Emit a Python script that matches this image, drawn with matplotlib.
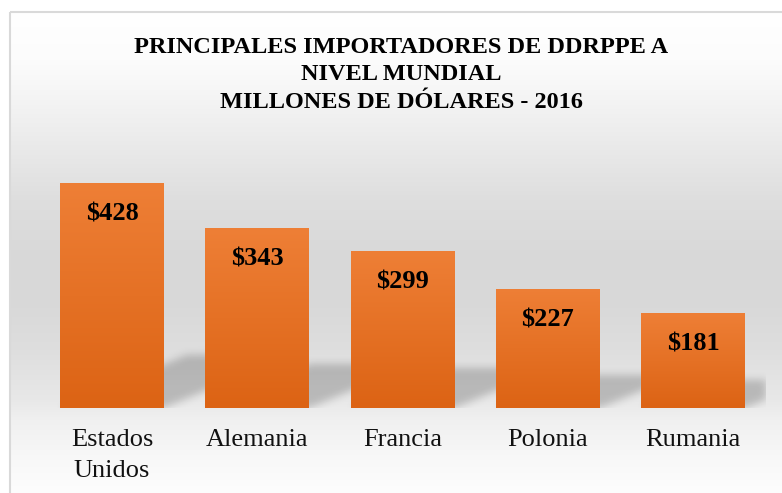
import numpy as np
import matplotlib
matplotlib.use('Agg')
import matplotlib.pyplot as plt
from matplotlib.patches import Rectangle
from matplotlib.colors import LinearSegmentedColormap

# ---- data ----
categories = ["Estados\nUnidos", "Alemania", "Francia", "Polonia", "Rumania"]
values = [428, 343, 299, 227, 181]
value_labels = ["$428", "$343", "$299", "$227", "$181"]
title_lines = ["PRINCIPALES IMPORTADORES DE DDRPPE A",
               "NIVEL MUNDIAL",
               "MILLONES DE DÓLARES - 2016"]

SERIF = ['Liberation Serif', 'DejaVu Serif']
W, H = 782, 493
fig = plt.figure(figsize=(W / 100, H / 100), dpi=100)
fig.patch.set_facecolor('white')

# ---- background gradient + frame ----
bg = fig.add_axes([0, 0, 1, 1], zorder=0)
bg.set_xlim(0, W)
bg.set_ylim(H, 0)
bg.axis('off')
ys = np.arange(H) + 0.5
stops_y = [11, 60, 100, 150, 200, 260, 300, 350, 400, 420, 460, 493]
stops_v = [255, 252, 244, 233, 222, 216, 216, 222, 232, 240, 248, 253]
g = np.interp(ys, stops_y, stops_v) / 255.0
img = np.ones((H, W, 3))
img[:, :, :] = g[:, None, None]
img[:11, :, :] = 1.0
img[:, :9, :] = 1.0
bg.imshow(img, extent=(0, W, H, 0), aspect='auto', interpolation='bilinear')
bg.add_patch(Rectangle((9.5, 11.5), W, H, fill=False, edgecolor='#d9d9d9', lw=1.5))
bg.set_xlim(0, W)
bg.set_ylim(H, 0)

# ---- main axes ----
ax_l, ax_r, ax_b, ax_t = 39.4, 765.6, 408.0, 145.7
ax = fig.add_axes([ax_l / W, (H - ax_b) / H, (ax_r - ax_l) / W, (ax_b - ax_t) / H], zorder=1)
ax.patch.set_alpha(0)
for s in ax.spines.values():
    s.set_visible(False)
ax.set_yticks([])
x = np.arange(len(values))
bw = 0.716

# shadow (perspective, blurred)
Wp, Hp = int(round(ax_r - ax_l)), int(round(ax_b - ax_t))
X, Y = np.meshgrid(np.arange(Wp) + 0.5, np.arange(Hp) + 0.5)
mask = np.zeros((Hp, Wp))
for i, v in enumerate(values):
    c = (i + 0.5) * Wp / len(values)
    hw = bw / 2 * Wp / len(values)
    h = v * Hp / 500.0
    s = 0.194 * h + 9.6
    k = 2.4
    inside = (Y <= s) & (X >= c - hw + k * Y) & (X <= c + hw + k * Y)
    mask = np.maximum(mask, inside.astype(float))
sig = 4.0
kx = np.arange(-15, 16)
kern = np.exp(-kx ** 2 / (2 * sig ** 2))
kern /= kern.sum()
pad = 15
m = np.pad(mask, pad, mode='constant')
m = np.apply_along_axis(lambda r: np.convolve(r, kern, mode='same'), 1, m)
m = np.apply_along_axis(lambda r: np.convolve(r, kern, mode='same'), 0, m)
m = m[pad:-pad, pad:-pad]
shadow = np.zeros((Hp, Wp, 4))
shadow[:, :, 3] = 0.2 * m
ax.imshow(shadow, extent=(-0.5, len(values) - 0.5, 0, 500), origin='lower',
          aspect='auto', interpolation='bilinear', zorder=2)

# bars with vertical gradient
cmap = LinearSegmentedColormap.from_list('org', ['#dc6314', '#ee7f36'])
bars = ax.bar(x, values, width=bw, color='#e6722a', zorder=3, linewidth=0)
grad = np.linspace(0, 1, 256)[:, None]
for b, v in zip(bars, values):
    x0 = b.get_x()
    im = ax.imshow(grad, extent=(x0, x0 + b.get_width(), 0, v), origin='lower',
                   cmap=cmap, aspect='auto', zorder=3.5, interpolation='bilinear')
    im.set_clip_path(b)

for i, (v, lbl) in enumerate(zip(values, value_labels)):
    ax.annotate(lbl, (i, v), xytext=(0, -37.5), textcoords='offset pixels',
                ha='center', va='baseline', fontsize=19, fontweight='bold',
                family=SERIF, color='black', zorder=5)

ax.set_xlim(-0.5, len(values) - 0.5)
ax.set_ylim(0, 500)
ax.set_xticks(x)
ax.set_xticklabels(categories, fontsize=19, family=SERIF, color='#111111',
                   linespacing=1.55)
ax.tick_params(axis='x', length=0, pad=15)

# ---- title ----
for yb, line in zip([53, 80, 108], title_lines):
    fig.text(401 / W, 1 - yb / H, line, ha='center', va='baseline', fontsize=17.5,
             fontweight='bold', family=SERIF, color='black')

fig.savefig('out.png', dpi=100)
